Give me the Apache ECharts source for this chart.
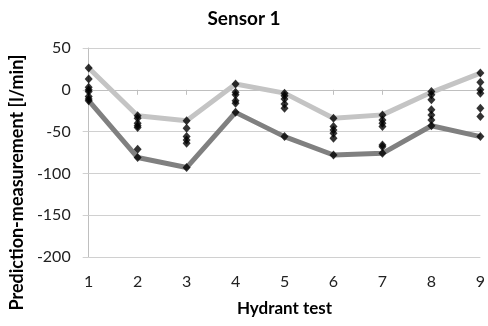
<!DOCTYPE html>
<html>
<head>
<meta charset="utf-8">
<script src="https://cdn.jsdelivr.net/npm/echarts@6/dist/echarts.min.js"></script>
<style>
  html, body { margin: 0; padding: 0; background: #fff; }
  #chart { width: 488px; height: 326px; }
</style>
</head>
<body>
<div id="chart"></div>
<script>
// Hydrant tests 1..9
const tests = [1, 2, 3, 4, 5, 6, 7, 8, 9];

// Upper envelope (light grey) and lower envelope (dark grey), l/min
const upperLine = [26, -31, -37, 7, -4, -34, -30, -3, 20];
const lowerLine = [-13, -81, -93, -27, -56, -78, -76, -43, -56];

// Individual prediction-measurement differences per hydrant test
const test1 = [26, 13, 3, 0, -2, -8, -11, -13];
const test2 = [-31, -34, -40, -43, -45, -71, -81];
const test3 = [-37, -46, -56, -60, -64, -93];
const test4 = [7, -3, -6, -13, -16, -27];
const test5 = [-4, -7, -11, -17, -22, -56];
const test6 = [-34, -44, -48, -52, -58, -78];
const test7 = [-30, -36, -40, -44, -66, -68, -76];
const test8 = [-2, -6, -12, -24, -30, -36, -43];
const test9 = [20, 9, 0, -4, -22, -32, -56];

const yTicks = { min: -200, max: 50, step: 50 };

const perTest = [test1, test2, test3, test4, test5, test6, test7, test8, test9];
const points = [];
perTest.forEach((vals, i) => vals.forEach(v => points.push([tests[i], v])));

const font = 'Lato, "Open Sans", sans-serif';
const chart = echarts.init(document.getElementById('chart'));
chart.setOption({
  animation: false,
  title: {
    text: 'Sensor 1',
    left: 'center',
    top: 4,
    textStyle: { fontFamily: font, fontSize: 19, fontWeight: 'bold', color: '#000' }
  },
  grid: { left: 86, right: 7, top: 48, bottom: 69 },
  xAxis: {
    type: 'value',
    min: 1, max: 9, interval: 1,
    name: 'Hydrant test',
    nameLocation: 'middle',
    nameGap: 43,
    nameTextStyle: { fontFamily: font, fontSize: 17, fontWeight: 'bold', color: '#000' },
    axisLine: { show: true, lineStyle: { color: '#bfbfbf', width: 1 } },
    axisTick: { show: true, length: 5, lineStyle: { color: '#bfbfbf' } },
    axisLabel: { margin: 17, fontFamily: font, fontSize: 16, color: '#222' },
    splitLine: { show: false }
  },
  yAxis: {
    type: 'value',
    min: yTicks.min, max: yTicks.max, interval: yTicks.step,
    name: 'Prediction-measurement [l/min]',
    nameLocation: 'middle',
    nameGap: 59,
    nameRotate: 90,
    nameTextStyle: { fontFamily: font, fontSize: 18, fontWeight: 'bold', color: '#000', padding: [0, 60, 0, 0] },
    axisLine: { show: true, lineStyle: { color: '#bfbfbf', width: 1 } },
    axisTick: { show: true, length: 6, lineStyle: { color: '#d0d0d0' } },
    axisLabel: { margin: 18, fontFamily: font, fontSize: 16, color: '#222' },
    splitLine: { show: true, lineStyle: { color: '#d0d0d0', width: 1 } }
  },
  series: [
    {
      type: 'line',
      data: tests.map((t, i) => [t, upperLine[i]]),
      showSymbol: false,
      lineStyle: { color: '#c4c4c4', width: 5 },
      z: 2
    },
    {
      type: 'line',
      data: tests.map((t, i) => [t, lowerLine[i]]),
      showSymbol: false,
      lineStyle: { color: '#808080', width: 5 },
      z: 3
    },
    {
      type: 'scatter',
      data: points,
      symbol: 'diamond',
      symbolSize: [8, 9],
      itemStyle: { color: '#000' },
      z: 5
    }
  ]
});
</script>
</body>
</html>
